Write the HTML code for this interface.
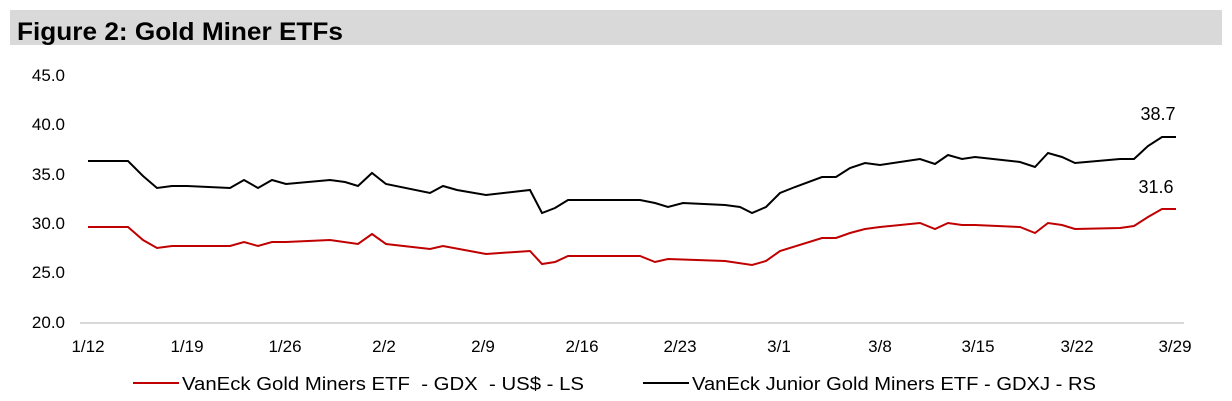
<!DOCTYPE html>
<html><head><style>
body{margin:0;background:#fff;}
svg{display:block;font-family:"Liberation Sans",Arial,sans-serif;}
</style></head><body>
<svg width="1232" height="401" viewBox="0 0 1232 401">
<rect x="10" y="10" width="1212" height="35" fill="#d9d9d9"/>
<text x="17" y="40" font-size="25" font-weight="bold" fill="#000" textLength="326" lengthAdjust="spacingAndGlyphs">Figure 2: Gold Miner ETFs</text>
<g font-size="17" fill="#000" text-anchor="end">
<text x="65" y="81">45.0</text>
<text x="65" y="130">40.0</text>
<text x="65" y="180">35.0</text>
<text x="65" y="229">30.0</text>
<text x="65" y="278">25.0</text>
<text x="65" y="328">20.0</text>
</g>
<line x1="80" y1="323" x2="1184" y2="323" stroke="#d9d9d9" stroke-width="2"/>
<g font-size="17" fill="#000" text-anchor="middle">
<text x="88" y="352">1/12</text><text x="187" y="352">1/19</text><text x="285" y="352">1/26</text>
<text x="384" y="352">2/2</text><text x="483" y="352">2/9</text><text x="582" y="352">2/16</text>
<text x="680" y="352">2/23</text><text x="779" y="352">3/1</text><text x="880" y="352">3/8</text>
<text x="978" y="352">3/15</text><text x="1077" y="352">3/22</text><text x="1175" y="352">3/29</text>
</g>
<polyline fill="none" stroke="#000" stroke-width="2" points="88,161 128,161 143,176 157,188 172,186 187,186 230,188 244,180 258,188 272,180 286,184 330,180 345,182 358,186 372,173 386,184 430,193 443,186 457,190 486,195 530,190 542,213 555,208 568,200 640,200 655,203 668,207 683,203 725,205 740,207 752,213 766,207 780,193 795,187 822,177 836,177 850,168 865,163 880,165 920,159 935,164 948,155 962,159 975,157 1020,162 1035,167 1048,153 1062,157 1075,163 1120,159 1134,159 1148,146 1162,137 1176,137"/>
<polyline fill="none" stroke="#c00000" stroke-width="2" points="88,227 128,227 143,240 157,248 172,246 230,246 244,242 258,246 272,242 286,242 330,240 358,244 372,234 386,244 430,249 443,246 486,254 530,251 542,264 555,262 568,256 640,256 655,262 668,259 725,261 752,265 766,261 780,251 822,238 836,238 850,233 865,229 880,227 920,223 935,229 948,223 962,225 975,225 1020,227 1035,233 1048,223 1062,225 1075,229 1120,228 1134,226 1148,217 1162,209 1176,209"/>
<text x="1158" y="120" font-size="18" text-anchor="middle">38.7</text>
<text x="1156" y="193" font-size="18" text-anchor="middle">31.6</text>
<line x1="133" y1="383" x2="179" y2="383" stroke="#c00000" stroke-width="2"/>
<text x="182" y="390" font-size="18" xml:space="preserve" textLength="402" lengthAdjust="spacingAndGlyphs">VanEck Gold Miners ETF  - GDX  - US$ - LS</text>
<line x1="643" y1="383" x2="689" y2="383" stroke="#000" stroke-width="2"/>
<text x="692" y="390" font-size="18" textLength="404" lengthAdjust="spacingAndGlyphs">VanEck Junior Gold Miners ETF - GDXJ - RS</text>
</svg>
</body></html>
